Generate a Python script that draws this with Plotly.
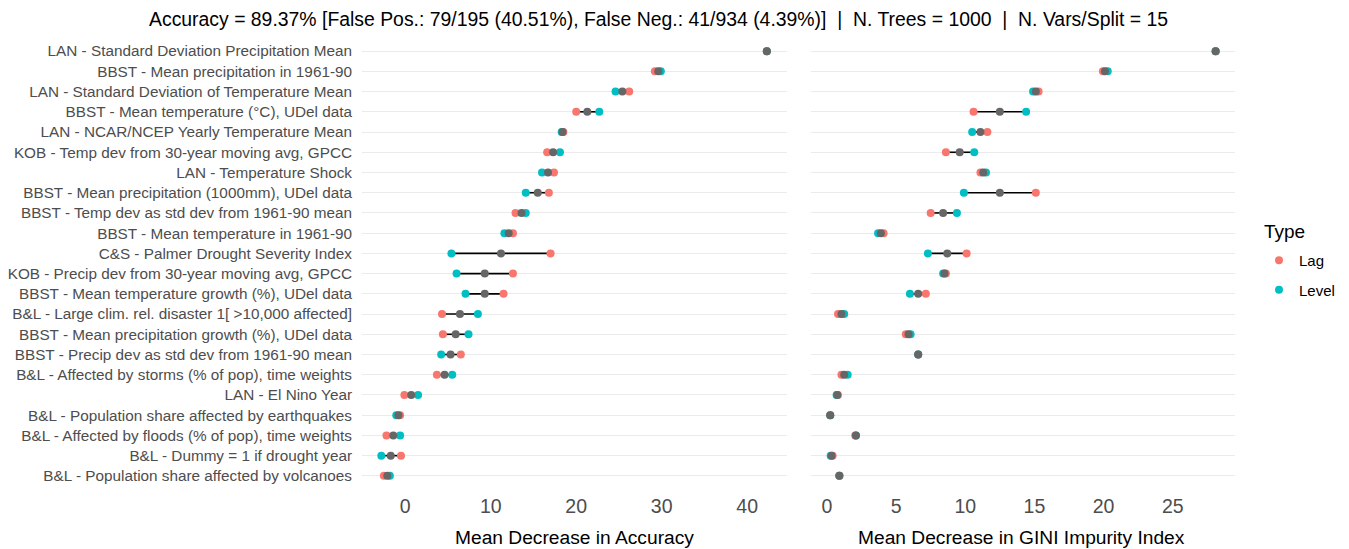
import plotly.graph_objects as go

# Variable names, most important first
variables = [
    "LAN - Standard Deviation Precipitation Mean",
    "BBST - Mean precipitation in 1961-90",
    "LAN - Standard Deviation of Temperature Mean",
    "BBST - Mean temperature (°C), UDel data",
    "LAN - NCAR/NCEP Yearly Temperature Mean",
    "KOB - Temp dev from 30-year moving avg, GPCC",
    "LAN - Temperature Shock",
    "BBST - Mean precipitation (1000mm), UDel data",
    "BBST - Temp dev as std dev from 1961-90 mean",
    "BBST - Mean temperature in 1961-90",
    "C&S - Palmer Drought Severity Index",
    "KOB - Precip dev from 30-year moving avg, GPCC",
    "BBST - Mean temperature growth (%), UDel data",
    "B&L - Large clim. rel. disaster 1[ >10,000 affected]",
    "BBST - Mean precipitation growth (%), UDel data",
    "BBST - Precip dev as std dev from 1961-90 mean",
    "B&L - Affected by storms (% of pop), time weights",
    "LAN - El Nino Year",
    "B&L - Population share affected by earthquakes",
    "B&L - Affected by floods (% of pop), time weights",
    "B&L - Dummy = 1 if drought year",
    "B&L - Population share affected by volcanoes",
]

# Mean decrease in accuracy
acc_lag = [42.3, 29.2, 26.2, 20.0, 18.5, 16.6, 17.4, 16.8, 12.9, 12.6, 17.0,
           12.6, 11.5, 4.3, 4.4, 6.5, 3.7, -0.1, -0.6, -2.2, -0.5, -2.5]
acc_level = [42.3, 29.9, 24.6, 22.7, 18.3, 18.1, 16.0, 14.1, 14.1, 11.6, 5.4,
             6.0, 7.05, 8.5, 7.4, 4.2, 5.5, 1.5, -1.05, -0.6, -2.8, -1.8]
acc_overall = [42.3, 29.6, 25.4, 21.3, 18.4, 17.3, 16.7, 15.5, 13.6, 12.1, 11.2,
               9.3, 9.3, 6.4, 5.9, 5.3, 4.6, 0.7, -0.8, -1.4, -1.7, -2.1]

# Mean decrease in GINI impurity
gini_lag = [28.1, 19.95, 15.3, 10.6, 11.6, 8.6, 11.1, 15.1, 7.5, 4.1, 10.1,
            8.6, 7.15, 0.8, 5.7, 6.6, 1.05, 0.8, 0.24, 2.05, 0.41, 0.9]
gini_level = [28.1, 20.3, 14.9, 14.4, 10.5, 10.65, 11.5, 9.9, 9.4, 3.7, 7.3,
              8.4, 6.0, 1.25, 6.05, 6.6, 1.5, 0.7, 0.24, 2.1, 0.27, 0.9]
gini_overall = [28.1, 20.1, 15.1, 12.5, 11.1, 9.6, 11.3, 12.5, 8.4, 3.9, 8.7,
                8.5, 6.6, 1.05, 5.9, 6.6, 1.25, 0.75, 0.24, 2.1, 0.34, 0.9]

acc_ticks = [0, 10, 20, 30, 40]
gini_ticks = [0, 5, 10, 15, 20, 25]

title_text = ("Accuracy = 89.37% [False Pos.: 79/195 (40.51%), False Neg.: 41/934 (4.39%)]"
              "  |  N. Trees = 1000  |  N. Vars/Split = 15")

LAG_COL = "#F8766D"
LEVEL_COL = "#00BFC4"
MEAN_COL = "#666666"
FONT = "Liberation Sans, Arial, sans-serif"

W, H = 1349, 549


def px_x(p):
    return p / W


def px_y(p):
    return 1 - p / H


fig = go.Figure()


def add_panel(lag, level, overall, xa, ya, legend):
    seg_x, seg_y = [], []
    for v, a, b in zip(variables, lag, level):
        seg_x += [a, b, None]
        seg_y += [v, v, None]
    fig.add_trace(go.Scatter(x=seg_x, y=seg_y, mode="lines",
                             line=dict(color="black", width=1.6),
                             xaxis=xa, yaxis=ya, showlegend=False, hoverinfo="skip"))
    fig.add_trace(go.Scatter(x=lag, y=variables, mode="markers", name="Lag",
                             marker=dict(color=LAG_COL, size=8),
                             xaxis=xa, yaxis=ya, showlegend=legend,
                             legendgroup="lag"))
    fig.add_trace(go.Scatter(x=level, y=variables, mode="markers", name="Level",
                             marker=dict(color=LEVEL_COL, size=8),
                             xaxis=xa, yaxis=ya, showlegend=legend,
                             legendgroup="level"))
    fig.add_trace(go.Scatter(x=overall, y=variables, mode="markers",
                             marker=dict(color=MEAN_COL, size=8),
                             xaxis=xa, yaxis=ya, showlegend=False))


add_panel(acc_lag, acc_level, acc_overall, "x", "y", True)
add_panel(gini_lag, gini_level, gini_overall, "x2", "y2", False)

yrange = [len(variables) - 0.4, -0.6]
ydom = [px_y(488), px_y(39)]

common_x = dict(showgrid=False, zeroline=False, showline=False, ticks="",
                ticklabelstandoff=4,
                tickfont=dict(size=19.5, color="#4D4D4D", family=FONT))

fig.update_layout(
    width=W, height=H,
    margin=dict(l=0, r=0, t=0, b=0),
    paper_bgcolor="white", plot_bgcolor="white",
    font=dict(family=FONT, color="black"),
    xaxis=dict(domain=[px_x(362), px_x(787)], range=[-5.06, 44.66],
               tickvals=acc_ticks, anchor="y", **common_x),
    xaxis2=dict(domain=[px_x(811), px_x(1235)], range=[-1.15, 29.5],
                tickvals=gini_ticks, anchor="y2", **common_x),
    yaxis=dict(domain=ydom, type="category", categoryarray=variables,
               range=yrange, showgrid=True, gridcolor="#EBEBEB", gridwidth=1,
               zeroline=False, showline=False, ticks="", anchor="x",
               ticklabelstandoff=9,
               tickfont=dict(size=15.3, color="#4D4D4D", family=FONT)),
    yaxis2=dict(domain=ydom, type="category", categoryarray=variables,
                range=yrange, showgrid=True, gridcolor="#EBEBEB", gridwidth=1,
                zeroline=False, showline=False, ticks="", showticklabels=False,
                anchor="x2"),
    legend=dict(x=px_x(1259), y=px_y(244), xanchor="left", yanchor="top",
                font=dict(size=15, color="black"), tracegroupgap=7,
                bgcolor="rgba(0,0,0,0)"),
    showlegend=True,
    annotations=[
        dict(text=title_text, x=px_x(658), y=px_y(19), xref="paper", yref="paper",
             showarrow=False, xanchor="center", yanchor="middle",
             font=dict(size=19.4, color="black", family=FONT)),
        dict(text="Mean Decrease in Accuracy", x=px_x(574), y=px_y(537),
             xref="paper", yref="paper", showarrow=False,
             xanchor="center", yanchor="middle",
             font=dict(size=19.2, color="black", family=FONT)),
        dict(text="Mean Decrease in GINI Impurity Index", x=px_x(1022), y=px_y(537),
             xref="paper", yref="paper", showarrow=False,
             xanchor="center", yanchor="middle",
             font=dict(size=19.2, color="black", family=FONT)),
        dict(text="Type", x=px_x(1262), y=px_y(231), xref="paper", yref="paper",
             showarrow=False, xanchor="left", yanchor="middle",
             font=dict(size=19, color="black", family=FONT)),
    ],
)

fig.write_html("out.html")
